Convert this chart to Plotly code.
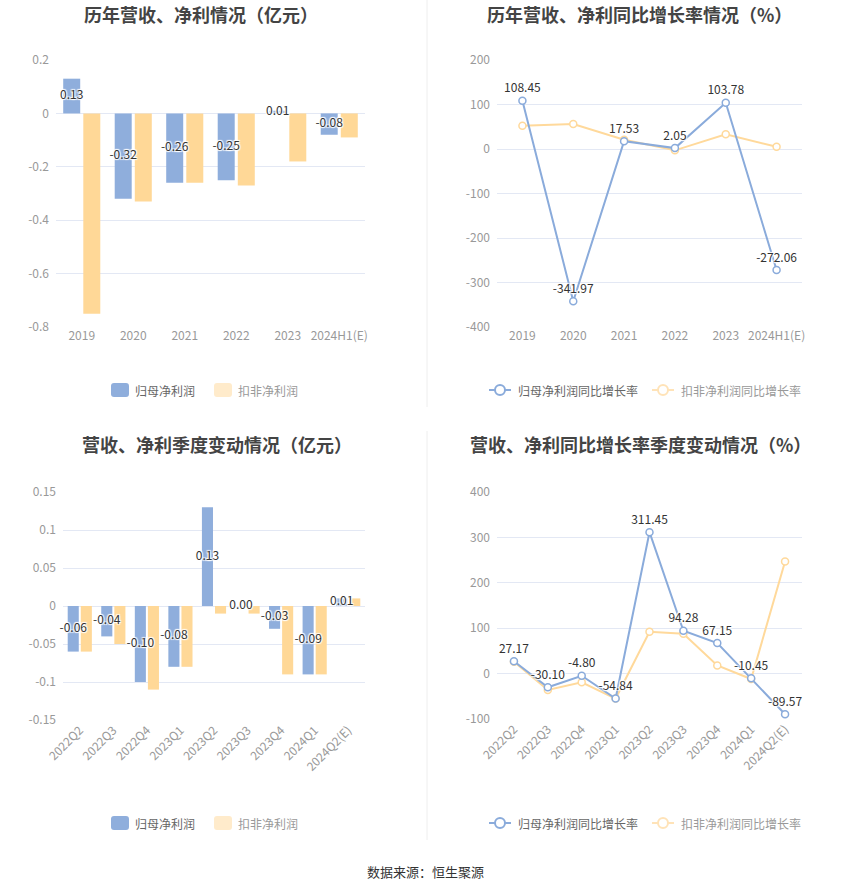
import plotly.graph_objects as go

# ---------------- data ----------------
years = ["2019", "2020", "2021", "2022", "2023", "2024H1(E)"]
np_annual = [0.13, -0.32, -0.26, -0.25, 0.01, -0.08]
kf_annual = [-0.75, -0.33, -0.26, -0.27, -0.18, -0.09]
np_yoy = [108.45, -341.97, 17.53, 2.05, 103.78, -272.06]
kf_yoy = [52, 56, 21, -3, 33, 5]

quarters = ["2022Q2", "2022Q3", "2022Q4", "2023Q1", "2023Q2", "2023Q3",
            "2023Q4", "2024Q1", "2024Q2(E)"]
np_q = [-0.06, -0.04, -0.10, -0.08, 0.13, 0.00, -0.03, -0.09, 0.01]
kf_q = [-0.06, -0.05, -0.11, -0.08, -0.01, -0.01, -0.09, -0.09, 0.01]
np_q_yoy = [27.17, -30.10, -4.80, -54.84, 311.45, 94.28, 67.15, -10.45, -89.57]
kf_q_yoy = [26, -36, -19, -55, 92, 88, 18, -12, 247]

tl_ticks = [0.2, 0, -0.2, -0.4, -0.6, -0.8]
tl_ticktext = ["0.2", "0", "-0.2", "-0.4", "-0.6", "-0.8"]
tr_ticks = [200, 100, 0, -100, -200, -300, -400]
tr_ticktext = ["200", "100", "0", "-100", "-200", "-300", "-400"]
bl_ticks = [0.15, 0.1, 0.05, 0, -0.05, -0.1, -0.15]
bl_ticktext = ["0.15", "0.1", "0.05", "0", "-0.05", "-0.1", "-0.15"]
br_ticks = [400, 300, 200, 100, 0, -100]
br_ticktext = ["400", "300", "200", "100", "0", "-100"]

titles = ["历年营收、净利情况（亿元）", "历年营收、净利同比增长率情况（%）",
          "营收、净利季度变动情况（亿元）", "营收、净利同比增长率季度变动情况（%）"]
bar_legend = ["归母净利润", "扣非净利润"]
line_legend = ["归母净利润同比增长率", "扣非净利润同比增长率"]
source_text = "数据来源：恒生聚源"

# ---------------- style ----------------
W, H = 850, 891
FONT = "Noto Sans CJK SC, Noto Sans, sans-serif"
BLUE = "#8FAEDC"
ORANGE = "#FFD897"
BLUE_LINE = "#8AABDB"
ORANGE_LINE = "#FFD99B"
GRID = "#E3E8F4"
TICK = "#999999"
LABEL = "#333333"
SHADOW = "1px 1px 1px #fff, -1px -1px 1px #fff, 1px -1px 1px #fff, -1px 1px 1px #fff"
BAR_W = 0.33
BAR_GAP = 0.06


def px_x(p):
    return p / W


def px_y(p):
    return 1 - p / H


panels = {
    "tl": dict(x=[56, 365], y=[60, 327], rng=[-0.8, 0.2]),
    "tr": dict(x=[497, 802], y=[60, 327], rng=[-400, 200]),
    "bl": dict(x=[63, 365], y=[492, 720], rng=[-0.15, 0.15]),
    "br": dict(x=[497, 802], y=[492, 719], rng=[-100, 400]),
}

fig = go.Figure()


def bar_pair(cats, a, b, xa, ya):
    idx = list(range(len(cats)))
    off_blue = -BAR_GAP / 2 - BAR_W
    off_orange = BAR_GAP / 2
    fig.add_trace(go.Bar(
        x=idx, y=b, name=bar_legend[1], width=BAR_W, offset=off_orange,
        marker=dict(color=ORANGE, line=dict(width=0)),
        customdata=cats, hovertemplate="%{customdata}: %{y}<extra></extra>",
        xaxis=xa, yaxis=ya, showlegend=False))
    fig.add_trace(go.Bar(
        x=idx, y=a, name=bar_legend[0], width=BAR_W, offset=off_blue,
        marker=dict(color=BLUE, line=dict(width=0)),
        customdata=cats, hovertemplate="%{customdata}: %{y}<extra></extra>",
        xaxis=xa, yaxis=ya, showlegend=False))
    # value labels centred in blue bars
    fig.add_trace(go.Scatter(
        x=[i + off_blue + BAR_W / 2 for i in idx], y=[v / 2 for v in a],
        mode="text", text=[f"{v:.2f}" for v in a], textposition="middle center",
        textfont=dict(size=12, color=LABEL, family=FONT, shadow=SHADOW),
        xaxis=xa, yaxis=ya, showlegend=False, hoverinfo="skip", cliponaxis=False))


def line_pair(cats, a, b, xa, ya):
    idx = list(range(len(cats)))
    fig.add_trace(go.Scatter(
        x=idx, y=b, mode="lines+markers", name=line_legend[1],
        line=dict(color=ORANGE_LINE, width=2),
        marker=dict(symbol="circle", size=7, color="white", line=dict(color=ORANGE_LINE, width=1.5)),
        xaxis=xa, yaxis=ya, showlegend=False, cliponaxis=False))
    fig.add_trace(go.Scatter(
        x=idx, y=a, mode="lines+markers+text", name=line_legend[0],
        line=dict(color=BLUE_LINE, width=2),
        marker=dict(symbol="circle", size=7, color="white", line=dict(color=BLUE_LINE, width=1.5)),
        text=[f"{v:.2f}" for v in a], textposition="top center",
        textfont=dict(size=12, color=LABEL, family=FONT, shadow=SHADOW),
        xaxis=xa, yaxis=ya, showlegend=False, cliponaxis=False))


bar_pair(years, np_annual, kf_annual, "x", "y")
line_pair(years, np_yoy, kf_yoy, "x2", "y2")
bar_pair(quarters, np_q, kf_q, "x3", "y3")
line_pair(quarters, np_q_yoy, kf_q_yoy, "x4", "y4")

layout = dict(
    width=W, height=H, margin=dict(l=0, r=0, t=0, b=0, autoexpand=False),
    paper_bgcolor="white", plot_bgcolor="white",
    font=dict(family=FONT, size=12, color=TICK),
    barmode="overlay",
    showlegend=False,
)

keys = ["tl", "tr", "bl", "br"]
tickinfo = {"tl": (tl_ticks, tl_ticktext), "tr": (tr_ticks, tr_ticktext),
            "bl": (bl_ticks, bl_ticktext), "br": (br_ticks, br_ticktext)}
catinfo = {"tl": years, "tr": years, "bl": quarters, "br": quarters}

for i, k in enumerate(keys):
    p = panels[k]
    cats = catinfo[k]
    n = len(cats)
    sfx = "" if i == 0 else str(i + 1)
    xd = [px_x(p["x"][0]), px_x(p["x"][1])]
    yd = [px_y(p["y"][1]), px_y(p["y"][0])]
    tv, tt = tickinfo[k]
    layout["xaxis" + sfx] = dict(
        domain=xd, anchor="y" + sfx, type="linear", range=[-0.5, n - 0.5],
        tickvals=list(range(n)), ticktext=cats, showgrid=False, zeroline=False,
        showline=False, ticks="", tickfont=dict(size=12, color=TICK, family=FONT),
        tickangle=(-45 if k in ("bl", "br") else 0), fixedrange=True, automargin=False)
    layout["yaxis" + sfx] = dict(
        domain=yd, anchor="x" + sfx, range=p["rng"], tickvals=tv, ticktext=tt,
        showgrid=True, gridcolor=GRID, gridwidth=1, zeroline=False, showline=False,
        ticks="", ticklabelstandoff=6,
        tickfont=dict(size=12, color=TICK, family=FONT), fixedrange=True,
        automargin=False)
    # overlay axis at zero for axis line + ticks
    r0, r1 = p["rng"]
    pos = yd[0] + (0 - r0) / (r1 - r0) * (yd[1] - yd[0])
    ox = "xaxis" + str(5 + i)
    layout[ox] = dict(
        overlaying="x" + sfx, anchor="free", position=pos, side="bottom",
        range=[-0.5, n - 0.5], tickvals=list(range(n)),
        showticklabels=False, showline=True, linecolor="#666666", linewidth=1,
        ticks="outside", ticklen=5, tickcolor="#666666", showgrid=False,
        zeroline=False, fixedrange=True, automargin=False)

fig.update_layout(**layout)

# ---- titles ----
title_pos = [(201, 14), (639, 14), (217, 444), (640, 444)]
for t, (cx, cy) in zip(titles, title_pos):
    fig.add_annotation(text=f"<b>{t}</b>", x=px_x(cx), y=px_y(cy), xref="paper", yref="paper",
                       xanchor="center", yanchor="middle", showarrow=False,
                       font=dict(size=18, color="#444444", family=FONT))

# ---- separators ----
for y0, y1 in [(0, 407), (431, 840)]:
    fig.add_shape(type="line", xref="paper", yref="paper", x0=px_x(427), x1=px_x(427),
                  y0=px_y(y0), y1=px_y(y1), line=dict(color="#EEEEEE", width=1))


def rounded_rect(x0, y0, x1, y1, r):
    X = lambda v: f"{px_x(v):.5f}"
    Y = lambda v: f"{px_y(v):.5f}"
    return (f"M {X(x0 + r)},{Y(y0)} L {X(x1 - r)},{Y(y0)} Q {X(x1)},{Y(y0)} {X(x1)},{Y(y0 + r)} "
            f"L {X(x1)},{Y(y1 - r)} Q {X(x1)},{Y(y1)} {X(x1 - r)},{Y(y1)} "
            f"L {X(x0 + r)},{Y(y1)} Q {X(x0)},{Y(y1)} {X(x0)},{Y(y1 - r)} "
            f"L {X(x0)},{Y(y0 + r)} Q {X(x0)},{Y(y0)} {X(x0 + r)},{Y(y0)} Z")


def bar_legend_at(yc):
    items = [(111, BLUE, bar_legend[0], "#666666"), (214, "#FFEBCB", bar_legend[1], "#999999")]
    for x0, col, txt, tcol in items:
        fig.add_shape(type="path", xref="paper", yref="paper",
                      path=rounded_rect(x0, yc - 7, x0 + 18, yc + 7, 3),
                      fillcolor=col, line=dict(width=0))
        fig.add_annotation(text=txt, x=px_x(x0 + 22), y=px_y(yc), xref="paper", yref="paper",
                           xanchor="left", yanchor="middle", showarrow=False,
                           font=dict(size=12, color=tcol, family=FONT))


def line_legend_at(yc):
    items = [(489, BLUE_LINE, line_legend[0], "#666666"), (652, "#FFE3B8", line_legend[1], "#999999")]
    for x0, col, txt, tcol in items:
        fig.add_shape(type="line", xref="paper", yref="paper", x0=px_x(x0), x1=px_x(x0 + 22),
                      y0=px_y(yc), y1=px_y(yc), line=dict(color=col, width=2))
        fig.add_shape(type="circle", xref="paper", yref="paper", x0=px_x(x0 + 6), x1=px_x(x0 + 16),
                      y0=px_y(yc - 5), y1=px_y(yc + 5), fillcolor="white", line=dict(color=col, width=2))
        fig.add_annotation(text=txt, x=px_x(x0 + 27), y=px_y(yc), xref="paper", yref="paper",
                           xanchor="left", yanchor="middle", showarrow=False,
                           font=dict(size=12, color=tcol, family=FONT))


bar_legend_at(390)
line_legend_at(390)
bar_legend_at(823)
line_legend_at(823)

fig.add_annotation(text=source_text, x=0.5, y=px_y(871), xref="paper", yref="paper",
                   xanchor="center", yanchor="middle", showarrow=False,
                   font=dict(size=13, color="#333333", family=FONT))

fig.write_html("out.html", config={"displayModeBar": False},
               post_script="document.body.style.margin='0px';document.body.style.overflow='hidden';")
